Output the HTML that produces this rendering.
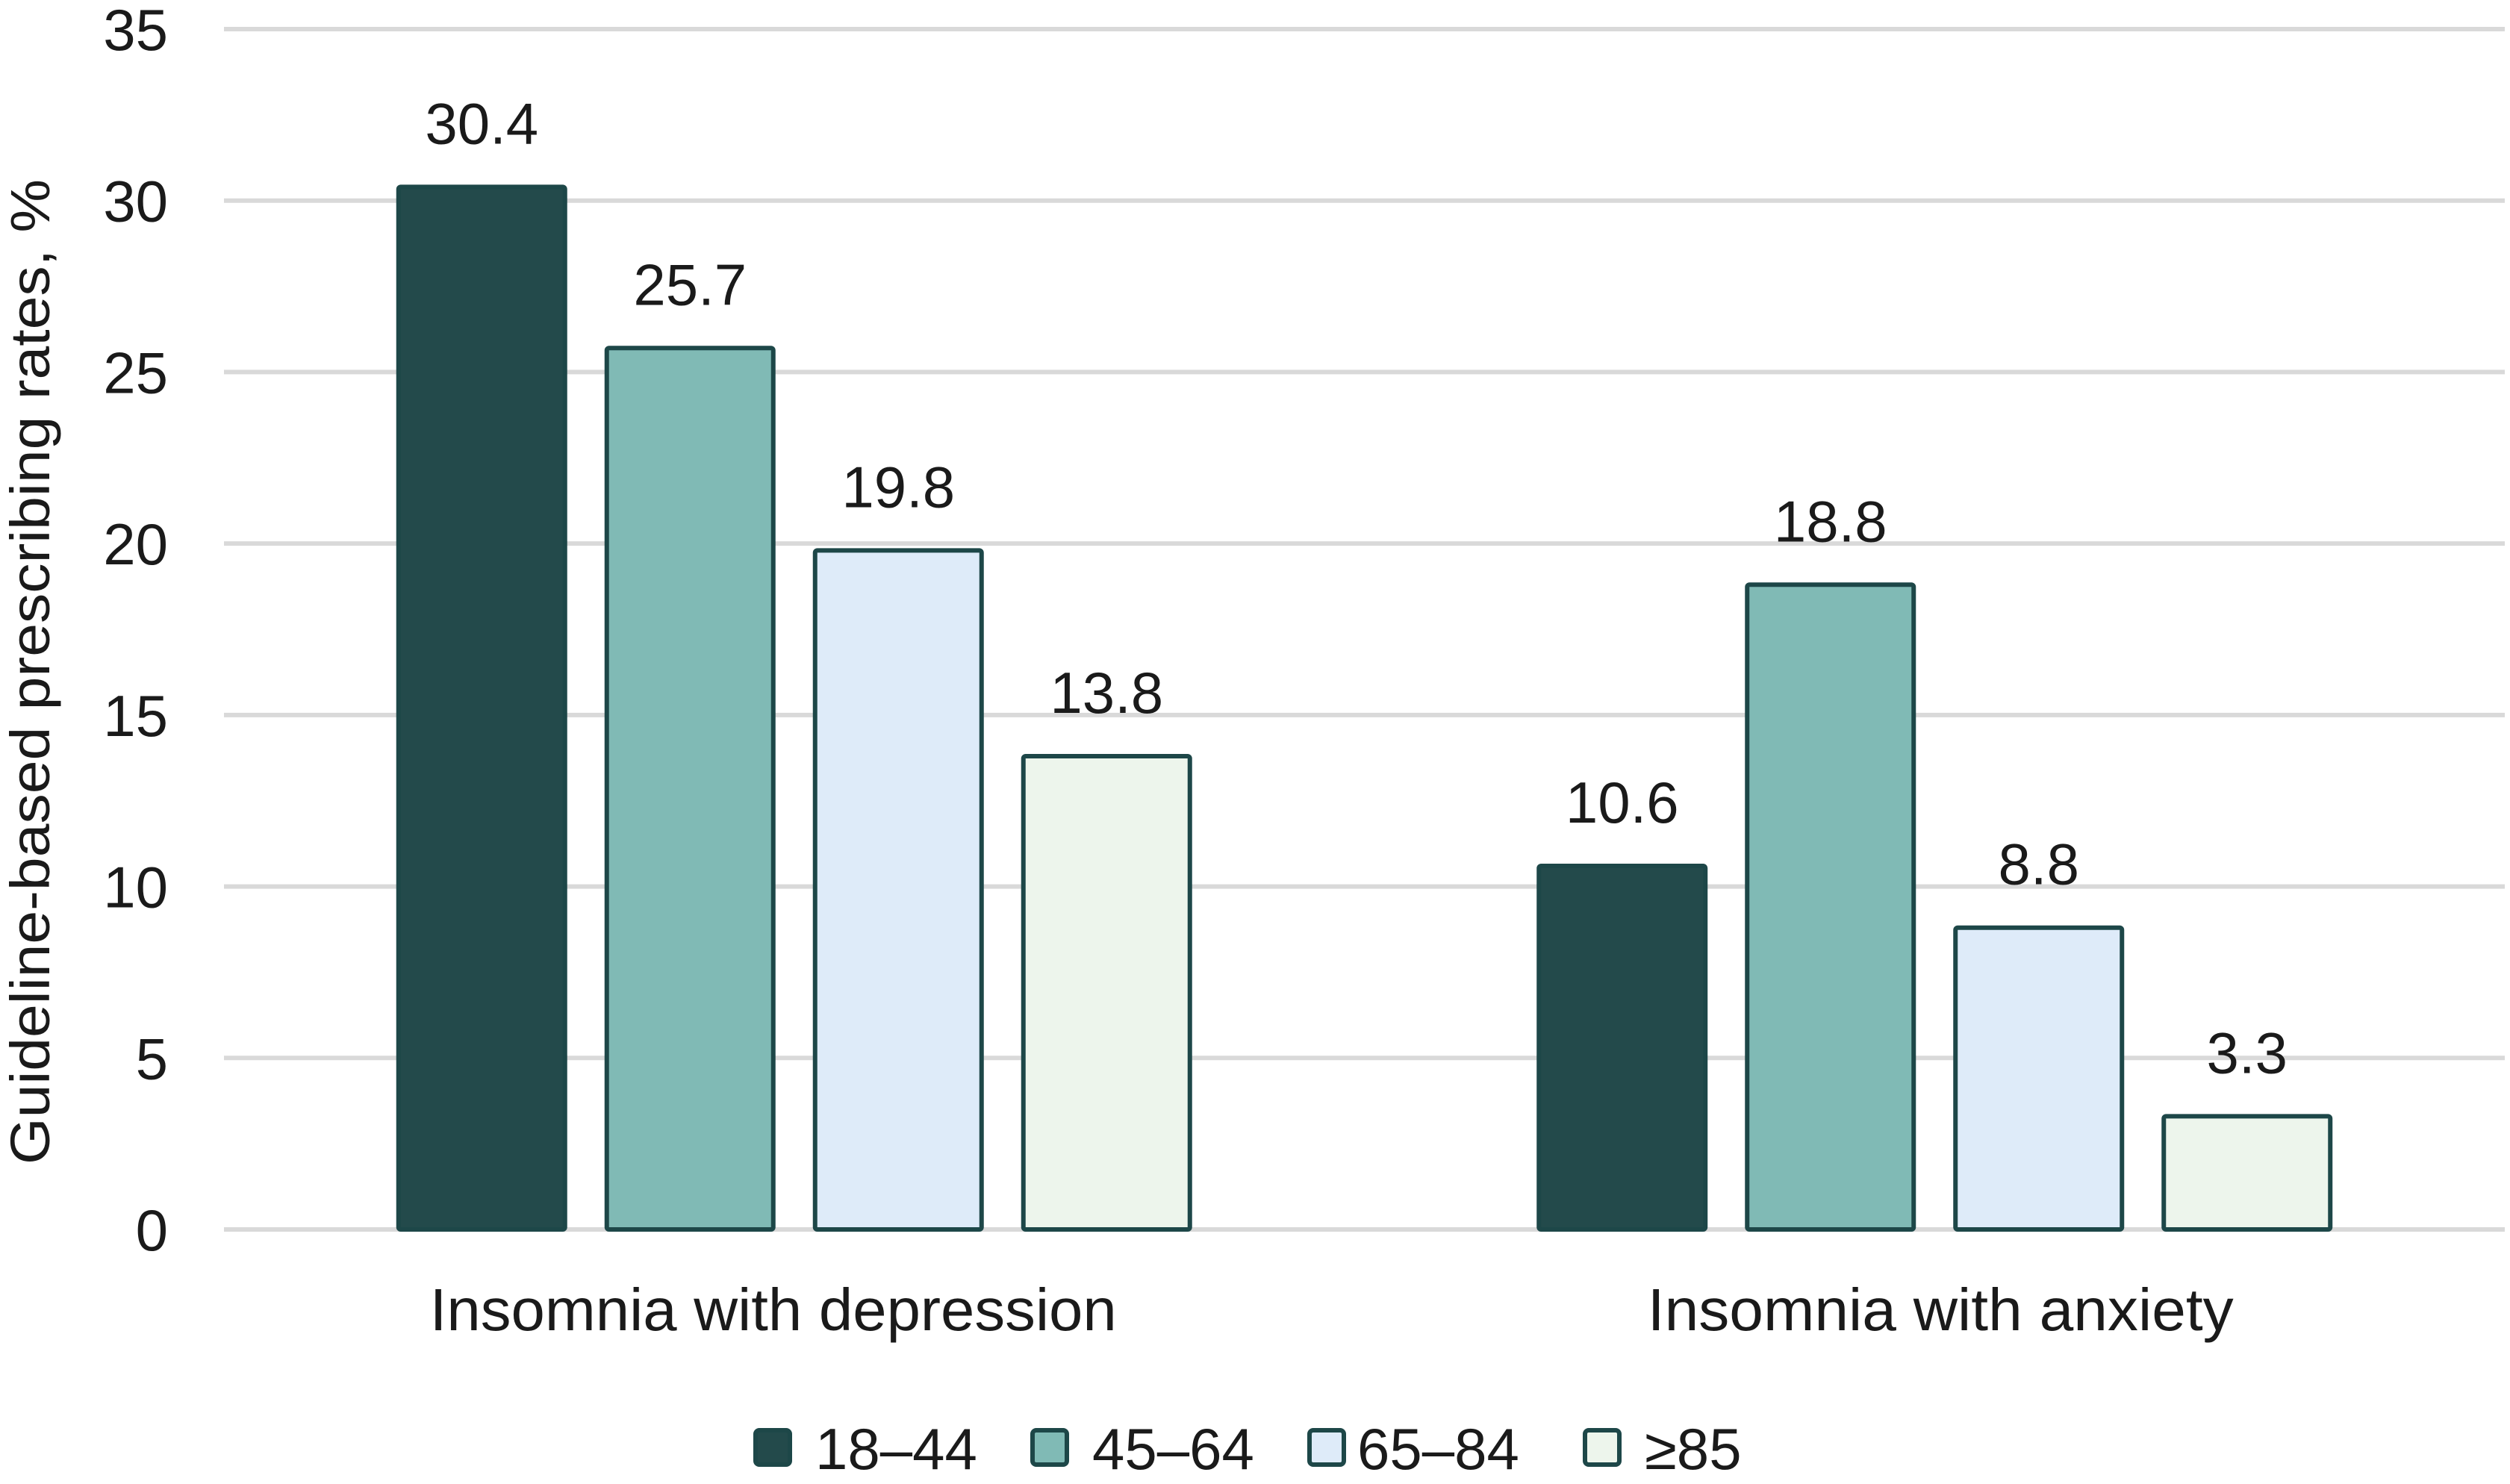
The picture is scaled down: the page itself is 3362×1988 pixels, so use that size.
<!DOCTYPE html>
<html><head><meta charset="utf-8"><style>
html,body{margin:0;padding:0;background:#fff}
svg{display:block}
text{font-family:"Liberation Sans",sans-serif;fill:#1a1a1a}
</style></head><body>
<svg id="chart" width="3362" height="1988" viewBox="0 0 3362 1988" xmlns="http://www.w3.org/2000/svg">
<g id="grid"></g><g id="bars"></g><g id="labels"></g>
<text transform="translate(66,900) rotate(-90)" text-anchor="middle" font-size="74" textLength="1320" lengthAdjust="spacingAndGlyphs">Guideline-based prescribing rates, %</text>
<g id="legend"></g>
</svg>
<script>
const categories = ["Insomnia with depression", "Insomnia with anxiety"];
const seriesNames = ["18–44", "45–64", "65–84", "≥85"];
const s1844 = [30.4, 10.6];
const s4564 = [25.7, 18.8];
const s6584 = [19.8, 8.8];
const s85 = [13.8, 3.3];
const yTicks = [0, 5, 10, 15, 20, 25, 30, 35];
const series = [s1844, s4564, s6584, s85];
const fills = ["#234a4b", "#80bab5", "#deebf9", "#edf5ec"];
const catLens = [920, 785];
const catShift = [-28, 8];
const NS = "http://www.w3.org/2000/svg";
const plotL = 300, plotR = 3355, y0 = 1647, yTop = 39, yMax = 35;
const yS = v => y0 - (v / yMax) * (y0 - yTop);
const catW = (plotR - plotL) / categories.length;
const catC = i => plotL + catW * (i + 0.5);
const step = 279, bw = 223;
function mk(tag, attrs, parent) { const e = document.createElementNS(NS, tag); for (const k in attrs) e.setAttribute(k, attrs[k]); parent.appendChild(e); return e; }
const grid = document.getElementById('grid'), bars = document.getElementById('bars'), labels = document.getElementById('labels'), legend = document.getElementById('legend');
yTicks.forEach(t => {
  const l = mk('line', {x1: plotL, x2: plotR, y1: yS(t), y2: yS(t), stroke: '#d9d9d9', 'stroke-width': 6}, grid);
  
  
  const tx = mk('text', {x: 225, y: yS(t) + 28, 'text-anchor': 'end', 'font-size': 78}, labels);
  tx.textContent = t;
  
  
});
categories.forEach((c, ci) => {
  series.forEach((s, si) => {
    const cx = catC(ci) + (si - 1.5) * step;
    const v = s[ci];
    const r = mk('rect', {x: cx - bw / 2, y: yS(v), width: bw, height: y0 - yS(v), fill: fills[si], stroke: '#1d4748', 'stroke-width': 6, rx: 3}, bars);
    
    
    const t = mk('text', {x: cx, y: yS(v) - 58, 'text-anchor': 'middle', 'font-size': 78}, labels);
    t.textContent = v.toFixed(1);
    
    
  });
  const ct = mk('text', {x: catC(ci) + catShift[ci], y: 1782, 'text-anchor': 'middle', 'font-size': 80, textLength: catLens[ci], lengthAdjust: 'spacingAndGlyphs'}, labels);
  ct.textContent = c;
  
  
});
const legX = [1012, 1383, 1754, 2123];
seriesNames.forEach((n, i) => {
  const r = mk('rect', {x: legX[i], y: 1916, width: 46, height: 46, fill: fills[i], stroke: '#1d4748', 'stroke-width': 6, rx: 5}, legend);
  
  
  const t = mk('text', {x: legX[i] + (i === 2 ? 64 : 80), y: 1968, 'font-size': 78}, legend);
  t.textContent = n;
  
  
});
</script>
</body></html>
